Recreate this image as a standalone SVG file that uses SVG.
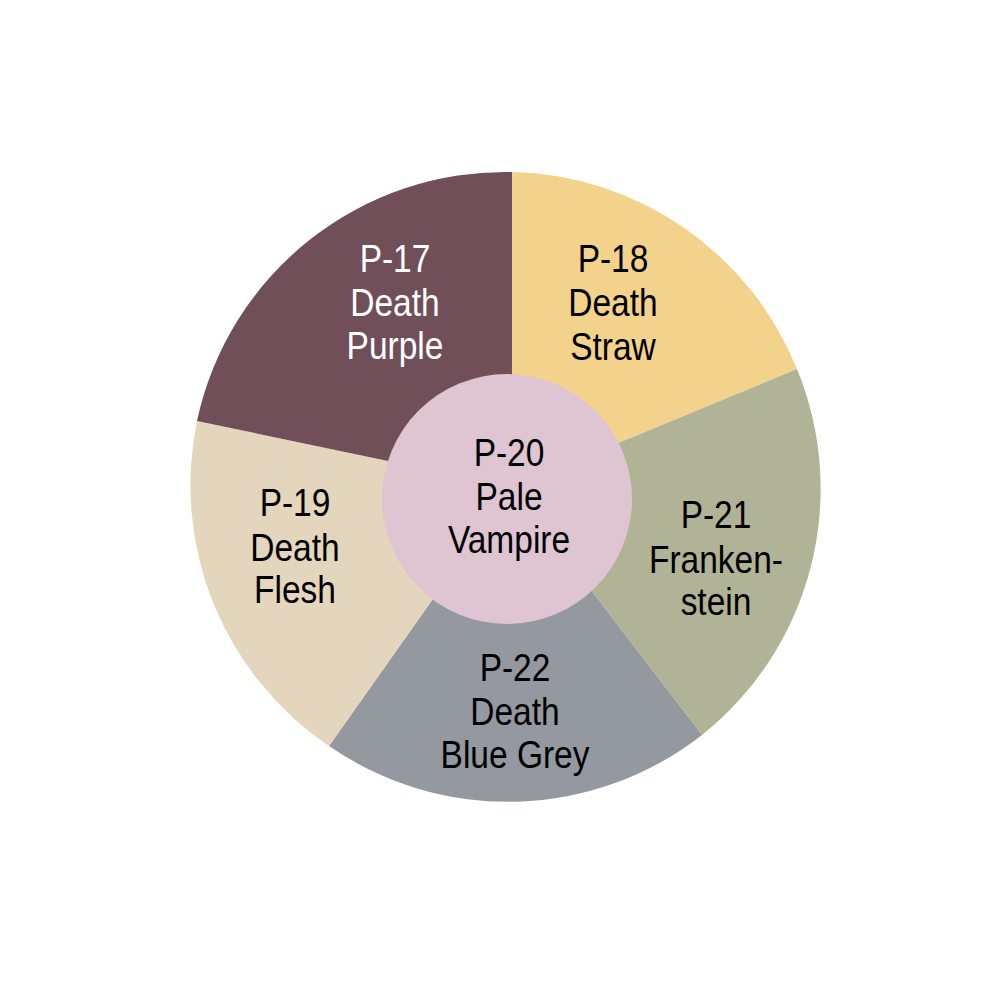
<svg xmlns="http://www.w3.org/2000/svg" width="1000" height="1000" viewBox="0 0 1000 1000">
<style>
.lbl{font-family:"Liberation Sans",Arial,sans-serif;font-size:38.5px;text-anchor:middle;fill:#000}
.w{fill:#fff}
</style>
<rect width="1000" height="1000" fill="#fff"/>
<g id="p18">
<path d="M512,487 L512,172 A315,315 0 0 1 797,369 Z" fill="#f3d38b"/>
<g transform="translate(613,0) scale(0.87,1)" class="lbl"><text x="0" y="272">P-18</text><text x="0" y="316">Death</text><text x="0" y="360">Straw</text></g>
</g>
<g id="p21">
<path d="M512,487 L797,369 A315,315 0 0 1 702,735 Z" fill="#b1b396"/>
<g transform="translate(716,0) scale(0.87,1)" class="lbl"><text x="0" y="528">P-21</text><text x="0" y="573">Franken-</text><text x="0" y="615">stein</text></g>
</g>
<g id="p22">
<path d="M512,487 L702,735 A315,315 0 0 1 329,746 Z" fill="#94989f"/>
<g transform="translate(515,0) scale(0.87,1)" class="lbl"><text x="0" y="681">P-22</text><text x="0" y="725">Death</text><text x="0" y="768">Blue Grey</text></g>
</g>
<g id="p19">
<path d="M512,487 L329,746 A315,315 0 0 1 197,421 Z" fill="#e3d6bc"/>
<g transform="translate(295,0) scale(0.87,1)" class="lbl"><text x="0" y="516">P-19</text><text x="0" y="561">Death</text><text x="0" y="603">Flesh</text></g>
</g>
<g id="p17">
<path d="M512,487 L197,421 A315,315 0 0 1 512,172 Z" fill="#714f58"/>
<g transform="translate(395,0) scale(0.87,1)" class="lbl w"><text x="0" y="272" class="w">P-17</text><text x="0" y="316" class="w">Death</text><text x="0" y="359" class="w">Purple</text></g>
</g>
<g id="p20">
<circle cx="507" cy="499" r="125" fill="#dfc5d2"/>
<g transform="translate(509,0) scale(0.87,1)" class="lbl"><text x="0" y="466">P-20</text><text x="0" y="510">Pale</text><text x="0" y="553">Vampire</text></g>
</g>
<g id="connectors"/>
</svg>
